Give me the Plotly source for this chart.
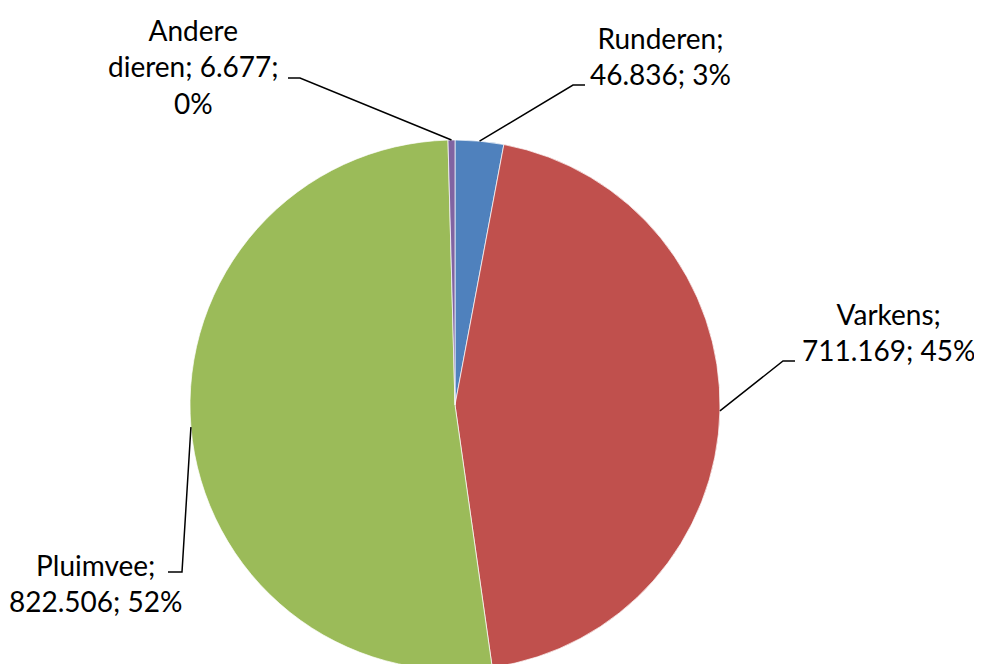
import math
import plotly.graph_objects as go

categories = ["Runderen", "Varkens", "Pluimvee", "Andere dieren"]
values = [46836, 711169, 822506, 6677]
colors = ["#4F81BD", "#C0504D", "#9BBB59", "#8064A2"]

# the page body has an 8px margin: figure is drawn at screen offset (8, 8)
OFF = 8
# pie geometry in screen pixels (pie runs slightly below the window, as in the reference)
cx_s, cy_s, radius = 455, 405, 265
W, H = 982 - OFF, cy_s + radius - OFF
FONT = "Lato"
FS = 28

total = sum(values)


def fmt(v):
    return f"{v:,}".replace(",", ".")


def pct(v):
    return f"{round(100 * v / total)}%"


label_texts = [
    f"Runderen;<br>{fmt(values[0])}; {pct(values[0])}",
    f"Varkens;<br>{fmt(values[1])}; {pct(values[1])}",
    f"Pluimvee;<br>{fmt(values[2])}; {pct(values[2])}",
    f"Andere<br>dieren; {fmt(values[3])};<br>{pct(values[3])}",
]
# label centres and leader-line elbow / end points, in screen pixels
label_pos = [(660, 56), (888, 332), (95, 583), (193, 66)]
elbows = [((573, 85), (585, 85)), ((783, 361), (795, 361)),
          ((182, 572), (168, 572)), ((300, 78), (288, 78))]

dom_x = [(cx_s - OFF - radius) / W, (cx_s - OFF + radius) / W]
dom_y = [0.0, 2 * radius / H]


def px(x):
    return (x - OFF) / W


def py(y):
    return 1 - (y - OFF) / H


fig = go.Figure(go.Pie(
    labels=categories,
    values=values,
    marker=dict(colors=colors, line=dict(color="white", width=0.7)),
    sort=False,
    direction="clockwise",
    rotation=0,
    textinfo="none",
    domain=dict(x=dom_x, y=dom_y),
    showlegend=False,
))

shapes = []
cum = 0
for i, v in enumerate(values):
    mid = (cum + v / 2) / total * 2 * math.pi
    cum += v
    ex = cx_s + radius * math.sin(mid)
    ey = cy_s - radius * math.cos(mid)
    (ax, ay), (bx, by) = elbows[i]
    path = f"M {px(ex)},{py(ey)} L {px(ax)},{py(ay)} L {px(bx)},{py(by)}"
    shapes.append(dict(type="path", xref="paper", yref="paper", path=path,
                       line=dict(color="black", width=1.5)))

annotations = []
for t, (lx, ly) in zip(label_texts, label_pos):
    annotations.append(dict(
        text=t, x=px(lx), y=py(ly), xref="paper", yref="paper",
        xanchor="center", yanchor="middle", showarrow=False, align="center",
        font=dict(family=FONT, size=FS, color="black"),
    ))

fig.update_layout(
    width=W, height=H,
    margin=dict(l=0, r=0, t=0, b=0),
    paper_bgcolor="white", plot_bgcolor="white",
    shapes=shapes, annotations=annotations,
)

fig.write_html("out.html")
